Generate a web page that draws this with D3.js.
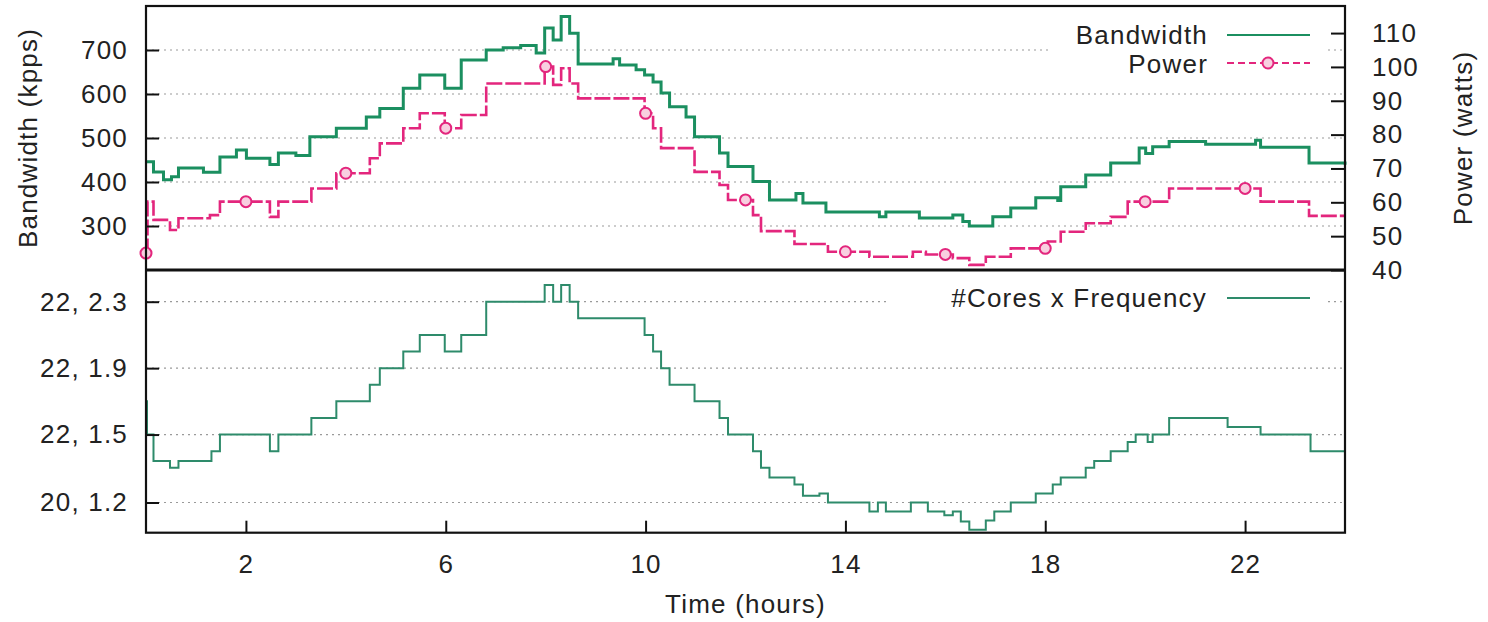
<!DOCTYPE html>
<html>
<head>
<meta charset="utf-8">
<script src="https://cdn.jsdelivr.net/npm/d3@7"></script>
<style>
  body { margin: 0; background: #fff; }
  text { font-family: "Liberation Sans", Arial, sans-serif; font-size: 26px; letter-spacing: 1.2px; fill: #222; }
</style>
</head>
<body>
<svg id="chart" width="1488" height="622"></svg>
<script>
// Bandwidth (kpps), step changes: start hour of each step and its value
var bwTimes = [0, 0.15, 0.35, 0.51, 0.65, 1.15, 1.48, 1.81, 2.01, 2.48, 2.65, 3.0, 3.28, 3.81, 4.41,
  4.68, 5.15, 5.48, 5.98, 6.31, 6.81, 7.15, 7.5, 7.81, 7.98, 8.15, 8.31, 8.48, 8.65, 9.35,
  9.48, 9.81, 9.98, 10.15, 10.31, 10.48, 10.81, 10.98, 11.48, 11.65, 12.15, 12.48, 13.01, 13.15, 13.61,
  14.68, 14.81, 15.48, 15.88, 16.15, 16.35, 16.48, 16.95, 17.31, 17.81, 18.25, 18.31, 18.81, 19.31, 19.88,
  20.01, 20.15, 20.48, 21.21, 22.21, 22.31, 23.28, 24];
var bwValues = [446, 423, 405, 412, 432, 422, 457, 473, 454, 440, 466, 460, 503, 522, 548,
  567, 613, 643, 613, 677, 700, 705, 710, 693, 750, 723, 776, 738, 668, 680,
  666, 655, 643, 627, 602, 571, 548, 503, 466, 435, 401, 359, 374, 352, 332,
  321, 332, 318, 318, 325, 310, 300, 321, 341, 364, 358, 389, 416, 443, 477,
  465, 480, 492, 486, 495, 479, 443, 439];

// Power (watts)
var pwTimes = [0, 0.03, 0.15, 0.48, 0.65, 1.28, 1.48, 2.48, 2.65, 3.31, 3.81, 4.48, 4.68, 5.15, 5.48,
  5.98, 6.31, 6.81, 7.98, 8.15, 8.31, 8.48, 8.65, 9.98, 10.15, 10.31, 10.98, 11.48, 11.65, 12.15,
  12.31, 12.98, 13.65, 14.48, 15.35, 15.61, 16.15, 16.48, 16.81, 17.31, 18.05, 18.31, 18.81, 19.31, 19.65,
  20.48, 22.31, 23.28, 24];
var pwValues = [45, 60.2, 54.8, 51.8, 55.3, 56.2, 60.2, 55.7, 60.2, 64.1, 68.6, 73, 77.4, 81.9, 86.3,
  81.9, 85.8, 95.1, 100.1, 94.7, 99.6, 95.1, 90.7, 86.3, 81.9, 76, 69, 65.1, 60.7, 56.2,
  51.5, 47.7, 45.4, 43.9, 45.4, 44.6, 43.5, 41.5, 43.9, 46.4, 48.4, 51.3, 53.8, 55.7, 60.2,
  64.1, 60.2, 56, 56];
var powerMarkerHours = [0, 2, 4, 6, 8, 10, 12, 14, 16, 18, 20, 22];

// #Cores x Frequency (product cores * GHz)
var cfTimes = [0, 0.02, 0.15, 0.48, 0.65, 1.31, 1.48, 2.48, 2.65, 3.31, 3.81, 4.48, 4.68, 5.15, 5.48,
  5.98, 6.31, 6.81, 7.98, 8.15, 8.31, 8.48, 8.65, 9.98, 10.15, 10.31, 10.48, 10.98, 11.48, 11.65,
  12.15, 12.31, 12.48, 12.98, 13.15, 13.48, 13.65, 14.48, 14.65, 14.81, 15.31, 15.65, 15.98, 16.15, 16.31,
  16.48, 16.81, 16.98, 17.31, 17.81, 18.15, 18.31, 18.81, 18.98, 19.31, 19.65, 19.81, 20.05, 20.15, 20.48,
  21.65, 22.31, 23.31, 24];
var cfValues = [37.4, 33, 29.5, 28.6, 29.5, 30.8, 33, 30.8, 33, 35.2, 37.4, 39.6, 41.8, 44, 46.2,
  44, 46.2, 50.6, 52.8, 50.6, 52.8, 50.6, 48.4, 46.2, 44, 41.8, 39.6, 37.4, 35.2, 33,
  30.8, 28.6, 27.3, 26.4, 24.9, 25.2, 24, 22.8, 24, 22.8, 24, 22.8, 22.3, 22.8, 21.5,
  20.4, 21.6, 22.8, 24, 25.2, 26.4, 27.3, 28.6, 29.5, 30.8, 32, 33, 32, 33, 35.2,
  34, 33, 30.8, 30.8];

// tick labels
var xTicks = [2, 6, 10, 14, 18, 22];
var bwTicks = [300, 400, 500, 600, 700];
var pwTicks = [40, 50, 60, 70, 80, 90, 100, 110];
var cfTicks = [24, 33, 41.8, 50.6];
var cfTickLabels = ["20, 1.2", "22, 1.5", "22, 1.9", "22, 2.3"];

var green = "#1b8f60";
var green2 = "#2e8b6b";
var pink = "#e3267d";

var svg = d3.select("#chart");

// layout
var left = 146, right = 1345;
var topY = 6, midY = 270, botY = 532.7;

var x = d3.scaleLinear().domain([0, 24]).range([left, right]);
var yBw = d3.scaleLinear().domain([200, 800]).range([midY, topY]);
var yPw = d3.scaleLinear().domain([40, 118]).range([midY, topY]);
var yCf = d3.scaleLinear().domain([20, 54.8]).range([botY, midY]);

function pairs(ts, vs) { return ts.map(function(t, i) { return [t, vs[i]]; }); }

// grid lines (dotted)
svg.append("g").selectAll("line").data(bwTicks).enter().append("line")
  .attr("x1", left).attr("x2", right)
  .attr("y1", function(d) { return yBw(d); }).attr("y2", function(d) { return yBw(d); })
  .attr("stroke", "#9a9a9a").attr("stroke-width", 1.2).attr("stroke-dasharray", "2,4");
svg.append("g").selectAll("line").data(cfTicks).enter().append("line")
  .attr("x1", left).attr("x2", right)
  .attr("y1", function(d) { return yCf(d); }).attr("y2", function(d) { return yCf(d); })
  .attr("stroke", "#9a9a9a").attr("stroke-width", 1.2).attr("stroke-dasharray", "2,4");

// key backgrounds
svg.append("rect").attr("x", 1048).attr("y", 16).attr("width", 278).attr("height", 64).attr("fill", "#fff");
svg.append("rect").attr("x", 890).attr("y", 283).attr("width", 436).attr("height", 31).attr("fill", "#fff");

// lines
var bwLine = d3.line().curve(d3.curveStepAfter)
  .x(function(d) { return x(d[0]); }).y(function(d) { return yBw(d[1]); });
var pwLine = d3.line().curve(d3.curveStepAfter)
  .x(function(d) { return x(d[0]); }).y(function(d) { return yPw(d[1]); });
var cfLine = d3.line().curve(d3.curveStepAfter)
  .x(function(d) { return x(d[0]); }).y(function(d) { return yCf(d[1]); });

svg.append("path").datum(pairs(bwTimes, bwValues)).attr("d", bwLine)
  .attr("fill", "none").attr("stroke", green).attr("stroke-width", 3);
svg.append("path").datum(pairs(pwTimes, pwValues)).attr("d", pwLine)
  .attr("fill", "none").attr("stroke", pink).attr("stroke-width", 2.6).attr("stroke-dasharray", "16,3");
svg.append("path").datum(pairs(cfTimes, cfValues)).attr("d", cfLine)
  .attr("fill", "none").attr("stroke", green2).attr("stroke-width", 2);

// power markers, value taken from the step the hour falls in
var bis = d3.bisector(function(d) { return d; }).right;
svg.append("g").selectAll("circle").data(powerMarkerHours).enter().append("circle")
  .attr("cx", function(d) { return x(d); })
  .attr("cy", function(d) { return yPw(pwValues[Math.max(0, bis(pwTimes, d) - 1)]); })
  .attr("r", 5.5).attr("fill", "#f8cfe0").attr("stroke", pink).attr("stroke-width", 2);

// axes
function styleAxis(g) {
  g.select(".domain").remove();
  g.selectAll(".tick line").attr("stroke", "#111").attr("stroke-width", 2);
  g.selectAll(".tick text").attr("font-size", null).attr("font-family", null).attr("fill", "#222");
}
svg.append("g").attr("transform", "translate(" + left + ",0)")
  .call(d3.axisLeft(yBw).tickValues(bwTicks).tickSize(-13).tickPadding(18)).call(styleAxis);
svg.append("g").attr("transform", "translate(" + right + ",0)")
  .call(d3.axisRight(yPw).tickValues(pwTicks).tickSize(-14).tickPadding(27)).call(styleAxis);
svg.append("g").attr("transform", "translate(" + left + ",0)")
  .call(d3.axisLeft(yCf).tickValues(cfTicks).tickSize(-13).tickPadding(18)
    .tickFormat(function(d, i) { return cfTickLabels[i]; })).call(styleAxis);
svg.append("g").attr("transform", "translate(0," + botY + ")")
  .call(d3.axisBottom(x).tickValues(xTicks).tickSize(-12).tickPadding(22)).call(styleAxis);

// frames
svg.append("rect").attr("x", left).attr("y", topY).attr("width", right - left).attr("height", botY - topY)
  .attr("fill", "none").attr("stroke", "#111").attr("stroke-width", 2.2);
svg.append("line").attr("x1", left).attr("x2", right).attr("y1", midY).attr("y2", midY)
  .attr("stroke", "#111").attr("stroke-width", 3);

// axis titles
svg.append("text").attr("transform", "translate(28,138) rotate(-90)")
  .attr("text-anchor", "middle").attr("dy", "0.35em").text("Bandwidth (kpps)");
svg.append("text").attr("transform", "translate(1463,138) rotate(-90)")
  .attr("text-anchor", "middle").attr("dy", "0.35em").text("Power (watts)");
svg.append("text").attr("x", (left + right) / 2).attr("y", 613)
  .attr("text-anchor", "middle").text("Time (hours)");

// keys
svg.append("text").attr("x", 1208).attr("y", 35).attr("dy", "0.35em").attr("text-anchor", "end").text("Bandwidth");
svg.append("line").attr("x1", 1227).attr("x2", 1310).attr("y1", 35).attr("y2", 35)
  .attr("stroke", green).attr("stroke-width", 2);
svg.append("text").attr("x", 1208).attr("y", 64).attr("dy", "0.35em").attr("text-anchor", "end").text("Power");
svg.append("line").attr("x1", 1227).attr("x2", 1310).attr("y1", 63).attr("y2", 63)
  .attr("stroke", pink).attr("stroke-width", 2).attr("stroke-dasharray", "7,4");
svg.append("circle").attr("cx", 1268).attr("cy", 63).attr("r", 5.5)
  .attr("fill", "#f8cfe0").attr("stroke", pink).attr("stroke-width", 2);
svg.append("text").attr("x", 1207).attr("y", 298).attr("dy", "0.35em").attr("text-anchor", "end").text("#Cores x Frequency");
svg.append("line").attr("x1", 1227).attr("x2", 1310).attr("y1", 298).attr("y2", 298)
  .attr("stroke", green2).attr("stroke-width", 2);
</script>
</body>
</html>
